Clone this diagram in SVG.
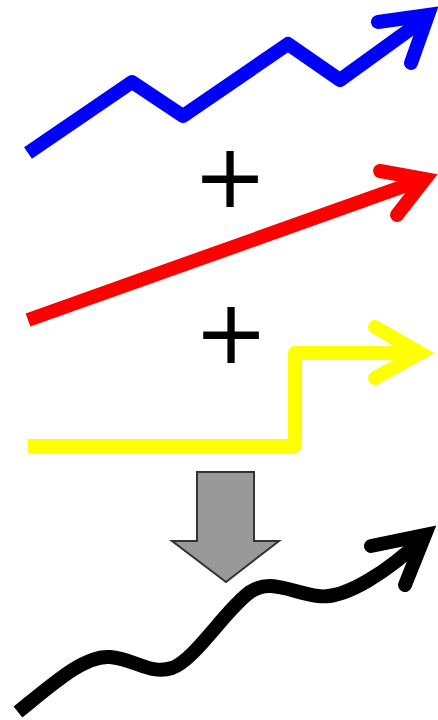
<svg xmlns="http://www.w3.org/2000/svg" width="438" height="720" viewBox="0 0 438 720">
<style>
.ln{fill:none;stroke-width:14;stroke-linejoin:round;stroke-linecap:butt}
.hd{fill:none;stroke-width:14;stroke-linejoin:miter;stroke-miterlimit:10;stroke-linecap:round}
.plus{font-family:"DejaVu Sans",sans-serif;font-size:89px;fill:#000;text-anchor:middle}
</style>
<rect width="438" height="720" fill="#fff"/>
<g id="blue">
<path class="ln" stroke="#0000ff" d="M28,153 L132,82 L183,116 L288,44 L340,80 L427,17"/>
<path class="hd" stroke="#0000ff" d="M378,22 L428,15 L411,63"/>
</g>
<g id="plus1"><text class="plus" x="230" y="206.6">+</text></g>
<g id="red">
<path class="ln" stroke="#ff0000" d="M28,320 L424,179"/>
<path class="hd" stroke="#ff0000" d="M380,171 L425,179 L397,215"/>
</g>
<g id="plus2"><text class="plus" x="231" y="363">+</text></g>
<g id="yellow">
<path class="ln" stroke="#ffff00" d="M28,446 L295,446 L295,353 L420,353"/>
<path class="hd" stroke="#ffff00" d="M375,327 L420,353 L375,378"/>
</g>
<g id="connectors">
<path id="down" d="M197,472 L254,472 L254,541 L279,541 L226,582 L172,541 L197,541 Z" fill="#999999" stroke="#333333" stroke-width="2"/>
</g>
<g id="result">
<path class="ln" stroke="#000" d="M18,712 C55,682 85,655 110,657 C135,659 150,675 172,668 C195,660 225,610 250,592 C270,578 290,592 318,596 C345,600 390,570 424,537"/>
<path class="hd" stroke="#000" d="M371,546 L425,535 L405,585"/>
</g>
</svg>
